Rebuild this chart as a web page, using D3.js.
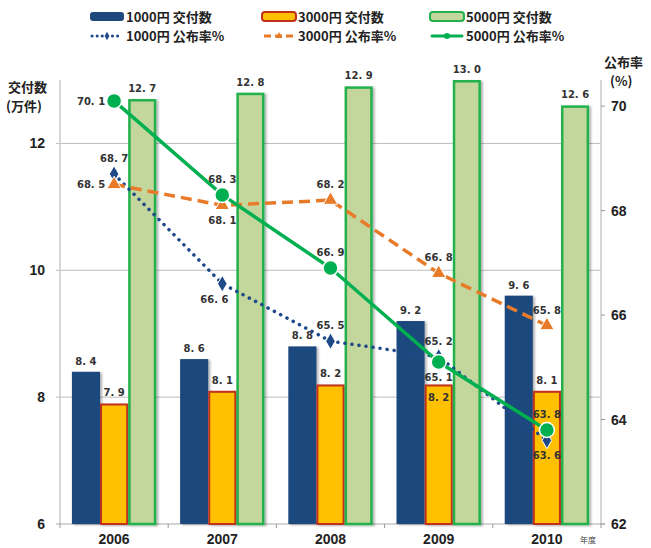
<!DOCTYPE html>
<html><head><meta charset="utf-8">
<script src="https://cdn.jsdelivr.net/npm/d3@7"></script>
<style>body{margin:0;background:#fff}</style>
</head><body>
<svg id="chart" width="651" height="548"></svg>
<script>
var years = ["2006", "2007", "2008", "2009", "2010"];
var bar1000 = [8.4, 8.6, 8.8, 9.2, 9.6];
var bar3000 = [7.9, 8.1, 8.2, 8.2, 8.1];
var bar5000 = [12.7, 12.8, 12.9, 13.0, 12.6];
var rate1000 = [68.7, 66.6, 65.5, 65.2, 63.6];
var rate3000 = [68.5, 68.1, 68.2, 66.8, 65.8];
var rate5000 = [70.1, 68.3, 66.9, 65.1, 63.8];
var leftTicks = [6, 8, 10, 12];
var rightTicks = [62, 64, 66, 68, 70];
var legendBars = ["1000円 交付数", "3000円 交付数", "5000円 交付数"];
var legendLines = ["1000円 公布率%", "3000円 公布率%", "5000円 公布率%"];

// where each label sits relative to its mark
var place1000 = ["above", "belowleft", "above", "above", "below"];
var place3000 = ["left", "below", "above", "above", "above"];
var place5000 = ["left", "above", "above", "below", "above"];
var barPlace3000 = ["above", "above", "above", "inside", "above"];

var svg = d3.select("#chart");
var plotLeft = 60, plotRight = 601, plotBottom = 524, plotTop = 80;
var font = "'Liberation Sans', 'DejaVu Sans', sans-serif";
var cjk = "'Noto Sans CJK JP', sans-serif";

var defs = svg.append("defs");
var f = defs.append("filter").attr("id", "shadow").attr("x", "-20%").attr("y", "-5%").attr("width", "150%").attr("height", "110%");
f.append("feDropShadow").attr("dx", 2).attr("dy", 1).attr("stdDeviation", 1.2)
  .attr("flood-color", "#000").attr("flood-opacity", 0.3);

var x0 = d3.scaleBand().domain(years).range([plotLeft, plotRight]).paddingInner(0.22).paddingOuter(0.11);
var x1 = d3.scaleBand().domain(["b1", "b3", "b5"]).range([0, x0.bandwidth()]);
var y = d3.scaleLinear().domain([6, 13]).range([plotBottom, plotTop]);
var yR = d3.scaleLinear().domain([62, 70.5]).range([plotBottom, plotTop]);
var cx = function(d, i) { return x0(years[i]) + x0.bandwidth() / 2; };

// gridlines
svg.append("g").selectAll("line").data([8, 10, 12]).join("line")
  .attr("x1", plotLeft - 4).attr("x2", plotRight).attr("y1", d => y(d)).attr("y2", d => y(d))
  .attr("stroke", "#bdbdbd").attr("stroke-width", 1);

// axes lines
svg.append("line").attr("x1", plotLeft).attr("x2", plotLeft).attr("y1", plotTop).attr("y2", plotBottom).attr("stroke", "#c8c8c8").attr("stroke-width", 1.5);
svg.append("line").attr("x1", plotRight).attr("x2", plotRight).attr("y1", plotTop).attr("y2", plotBottom).attr("stroke", "#c8c8c8").attr("stroke-width", 1.5);
svg.append("line").attr("x1", plotLeft - 4).attr("x2", plotRight + 4).attr("y1", plotBottom).attr("y2", plotBottom).attr("stroke", "#aaa").attr("stroke-width", 1);

// category ticks
var bounds = years.map(d => x0(d) - x0.step() * x0.paddingInner() / 2);
bounds.push(plotRight);
bounds[0] = plotLeft;
svg.append("g").selectAll("line").data(bounds).join("line")
  .attr("x1", d => d).attr("x2", d => d).attr("y1", plotBottom).attr("y2", plotBottom + 4)
  .attr("stroke", "#999");

// right ticks
svg.append("g").selectAll("line").data(rightTicks).join("line")
  .attr("x1", plotRight).attr("x2", plotRight + 4).attr("y1", d => yR(d)).attr("y2", d => yR(d))
  .attr("stroke", "#999");

// tick labels
svg.append("g").selectAll("text").data(leftTicks).join("text")
  .attr("x", 45).attr("y", d => y(d) + 5).attr("text-anchor", "end")
  .style("font", "bold 14px " + font).attr("fill", "#222").text(d => d);
svg.append("g").selectAll("text").data(rightTicks).join("text")
  .attr("x", 611).attr("y", d => yR(d) + 5).attr("text-anchor", "start")
  .style("font", "bold 14px " + font).attr("fill", "#222").text(d => d);
svg.append("g").selectAll("text").data(years).join("text")
  .attr("x", (d, i) => cx(d, i)).attr("y", 544).attr("text-anchor", "middle")
  .style("font", "bold 14px " + font).attr("fill", "#222").text(d => d);
svg.append("text").attr("x", 580).attr("y", 543).style("font", "8px " + cjk).attr("fill", "#444").text("年度");

// axis titles
svg.append("text").attr("x", 8).attr("y", 92).style("font", "bold 13px " + cjk).attr("fill", "#222").text("交付数");
svg.append("text").attr("x", 6).attr("y", 111).style("font", "bold 13px " + cjk).attr("fill", "#222").text("(万件)");
svg.append("text").attr("x", 604).attr("y", 67).style("font", "bold 13px " + cjk).attr("fill", "#222").text("公布率");
svg.append("text").attr("x", 610).attr("y", 86).style("font", "bold 13px " + cjk).attr("fill", "#222").text("(%)");

// bars
var barSeries = [
  {key: "b1", values: bar1000, fill: "#1f497d", stroke: "none", sw: 0, place: null},
  {key: "b3", values: bar3000, fill: "#ffc000", stroke: "#c0301a", sw: 2, place: barPlace3000},
  {key: "b5", values: bar5000, fill: "#c3d69b", stroke: "#22b14c", sw: 2.5, place: null}
];
barSeries.forEach(function(s) {
  var g = svg.append("g");
  g.selectAll("rect").data(s.values).join("rect")
    .attr("x", (d, i) => x0(years[i]) + x1(s.key) + s.sw / 2)
    .attr("width", x1.bandwidth() - s.sw)
    .attr("y", d => y(d) + s.sw / 2)
    .attr("height", d => y(6) - y(d) - s.sw / 2)
    .attr("fill", s.fill).attr("stroke", s.stroke).attr("stroke-width", s.sw)
    .attr("filter", "url(#shadow)");
});
barSeries.forEach(function(s) {
  svg.append("g").selectAll("text").data(s.values).join("text")
    .attr("x", (d, i) => x0(years[i]) + x1(s.key) + x1.bandwidth() / 2)
    .attr("y", (d, i) => (s.place && s.place[i] == "inside") ? y(d) + 17 : y(d) - 7)
    .attr("text-anchor", "middle")
    .style("font", "bold 10px 'DejaVu Sans', sans-serif").attr("fill", "#333")
    .text(d => d.toFixed(1).replace(".", ". "));
});

// lines
var line = d3.line().x((d, i) => cx(d, i)).y(d => yR(d));
var lineSeries = [
  {values: rate1000, color: "#1f4a8a", width: 3.5, dash: "0.1 7", cap: "round", marker: "diamond", place: place1000},
  {values: rate3000, color: "#e87b2a", width: 3.5, dash: "11 6", cap: "butt", marker: "triangle", place: place3000},
  {values: rate5000, color: "#00b050", width: 3.5, dash: null, cap: "round", marker: "circle", place: place5000}
];
lineSeries.forEach(function(s) {
  svg.append("path").datum(s.values).attr("d", line)
    .attr("fill", "none").attr("stroke", s.color).attr("stroke-width", s.width)
    .attr("stroke-dasharray", s.dash).attr("stroke-linecap", s.cap);
  var g = svg.append("g");
  if (s.marker == "circle") {
    g.selectAll("circle").data(s.values).join("circle")
      .attr("cx", (d, i) => cx(d, i)).attr("cy", d => yR(d)).attr("r", 7.5)
      .attr("fill", "#00b050").attr("stroke", "#fff").attr("stroke-width", 1.5);
  } else {
    var sym = d3.symbol().type(s.marker == "diamond" ? d3.symbolDiamond : d3.symbolTriangle).size(s.marker == "diamond" ? 80 : 90);
    g.selectAll("path").data(s.values).join("path")
      .attr("transform", (d, i) => "translate(" + cx(d, i) + "," + yR(d) + ")")
      .attr("d", sym).attr("fill", s.color).attr("stroke", "#fff").attr("stroke-width", 1);
  }
});
lineSeries.forEach(function(s) {
  svg.append("g").selectAll("text").data(s.values).join("text")
    .attr("x", function(d, i) {
      var p = s.place[i];
      if (p == "left") return cx(d, i) - 9;
      if (p == "belowleft") return cx(d, i) - 8;
      return cx(d, i);
    })
    .attr("y", function(d, i) {
      var p = s.place[i];
      if (p == "left") return yR(d) + 4;
      if (p == "above") return yR(d) - 12;
      return yR(d) + 19;
    })
    .attr("text-anchor", (d, i) => s.place[i] == "left" ? "end" : "middle")
    .style("font", "bold 10px 'DejaVu Sans', sans-serif").attr("fill", "#333")
    .text(d => d.toFixed(1).replace(".", ". "));
});

// legend
var legX = [90, 262, 430];
var legendColors = [["#1f497d", "none"], ["#ffc000", "#c0301a"], ["#c3d69b", "#22b14c"]];
legendBars.forEach(function(t, i) {
  svg.append("rect").attr("x", legX[i]).attr("y", 12).attr("width", 34).attr("height", 9).attr("rx", 3)
    .attr("fill", legendColors[i][0]).attr("stroke", legendColors[i][1]).attr("stroke-width", 2);
  svg.append("text").attr("x", legX[i] + 36).attr("y", 22).style("font", "bold 13px " + cjk).attr("fill", "#222").text(t);
});
legendLines.forEach(function(t, i) {
  var s = lineSeries[i];
  svg.append("line").attr("x1", legX[i] + 2).attr("x2", legX[i] + 32).attr("y1", 36).attr("y2", 36)
    .attr("stroke", s.color).attr("stroke-width", 3).attr("stroke-dasharray", s.dash ? (i == 0 ? "0.1 5" : "7 4") : null)
    .attr("stroke-linecap", s.cap);
  if (s.marker == "circle") {
    svg.append("circle").attr("cx", legX[i] + 17).attr("cy", 36).attr("r", 3).attr("fill", s.color);
  } else {
    var sym = d3.symbol().type(s.marker == "diamond" ? d3.symbolDiamond : d3.symbolTriangle).size(20);
    svg.append("path").attr("transform", "translate(" + (legX[i] + 17) + ",36)").attr("d", sym).attr("fill", s.color);
  }
  svg.append("text").attr("x", legX[i] + 36).attr("y", 41).style("font", "bold 13px " + cjk).attr("fill", "#222").text(t);
});
</script>
</body></html>
